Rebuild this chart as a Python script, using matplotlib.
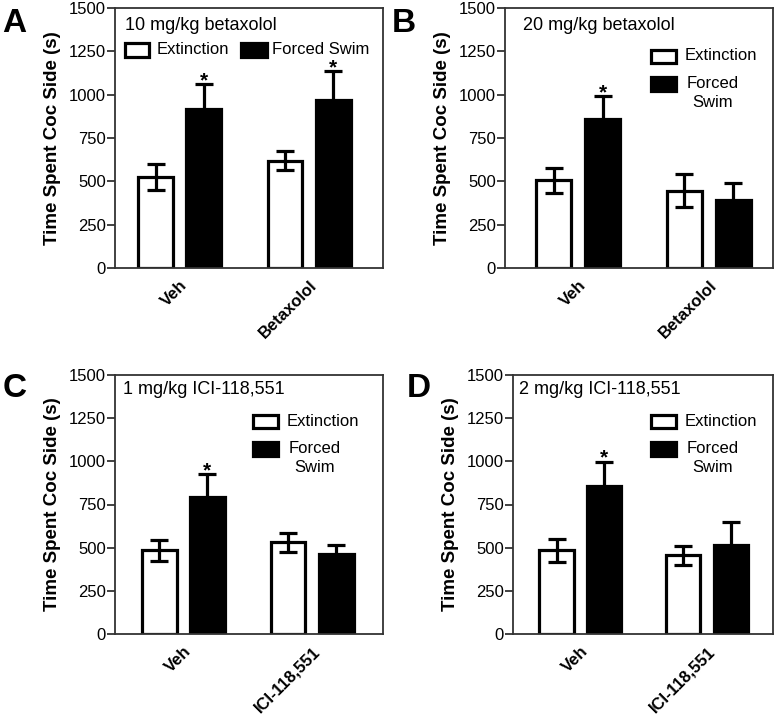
import matplotlib
matplotlib.use("Agg")
import matplotlib.pyplot as plt
from matplotlib.patches import Rectangle
import numpy as np

plt.rcParams['font.family'] = ['Liberation Sans', 'DejaVu Sans']

# ---- data ----
panel_letters = ["A", "B", "C", "D"]
panel_titles = ["10 mg/kg betaxolol", "20 mg/kg betaxolol",
                "1 mg/kg ICI-118,551", "2 mg/kg ICI-118,551"]
group_labels = [["Veh", "Betaxolol"], ["Veh", "Betaxolol"],
                ["Veh", "ICI-118,551"], ["Veh", "ICI-118,551"]]
series_names = ["Extinction", "Forced Swim"]

ext_means = [[525, 620], [505, 447], [485, 530], [485, 455]]
ext_sem = [[77, 57], [70, 95], [60, 55], [67, 53]]
fs_means = [[915, 970], [860, 393], [795, 465], [860, 515]]
fs_sem = [[145, 165], [133, 98], [130, 48], [137, 135]]
significant = [[True, True], [True, False], [True, False], [True, False]]

yticks = [0, 250, 500, 750, 1000, 1250, 1500]

# ---- layout (pixels) ----
W, H = 775, 719
fig = plt.figure(figsize=(W / 100, H / 100), dpi=100)

boxes = [  # left, top, right, bottom
    (115, 8, 383, 268),
    (505, 8, 773, 268),
    (115, 375, 383, 634),
    (513, 375, 773, 634),
]
xlims = [(-0.5, 1.57), (-0.56, 1.49), (-0.53, 1.55), (-0.53, 1.52)]
title_off = [(10, 17), (18, 17), (8, 14), (6, 14)]
legend_left = [None, 146, 138, 138]
letter_pos = [(2, 8), (392, 8), (3, 373), (407, 373)]

offset = 0.187
width = 0.27
spine_c = "#333333"
FS = 12

for i in range(4):
    l, t, r, b = boxes[i]
    aw, ah = r - l, b - t
    ax = fig.add_axes([l / W, 1 - b / H, aw / W, ah / H])

    def fx(px):
        return px / aw

    def fy(py):
        return 1 - py / ah

    x = np.arange(2)
    ax.bar(x - offset, ext_means[i], width, color="white", edgecolor="black",
           linewidth=2.3, zorder=2)
    ax.bar(x + offset, fs_means[i], width, color="black", edgecolor="black",
           linewidth=2.3, zorder=2)
    ax.errorbar(x - offset, ext_means[i], yerr=ext_sem[i], fmt="none",
                ecolor="black", elinewidth=2.3, capsize=6.5, capthick=2.3, zorder=3)
    ax.errorbar(x + offset, fs_means[i], yerr=fs_sem[i], fmt="none",
                ecolor="black", elinewidth=2.3, capsize=6.5, capthick=2.3, zorder=3)
    for j in range(2):
        if significant[i][j]:
            ax.annotate("*", (x[j] + offset, fs_means[i][j] + fs_sem[i][j]),
                        xytext=(0, 2.5), textcoords="offset points",
                        ha="center", va="center", fontsize=15, fontweight="bold")

    ax.set_ylim(0, 1500)
    ax.set_xlim(*xlims[i])
    ax.set_yticks(yticks)
    ax.set_yticklabels([str(v) for v in yticks], fontsize=FS)
    ax.set_xticks(x)
    ax.set_xticklabels(group_labels[i], rotation=45, ha="right",
                       rotation_mode="anchor", fontsize=12, fontweight="bold")
    ax.tick_params(axis="x", length=0, pad=7)
    ax.tick_params(axis="y", length=5.5, width=1.3, color=spine_c, pad=1)
    for s in ax.spines.values():
        s.set_linewidth(1.3)
        s.set_color(spine_c)
    ax.set_ylabel("Time Spent Coc Side (s)", fontsize=13.5, fontweight="bold",
                  labelpad=6)

    tx, ty = title_off[i]
    ax.text(fx(tx), fy(ty), panel_titles[i], transform=ax.transAxes,
            ha="left", va="center", fontsize=13)

    # legend
    sq_kw = dict(transform=ax.transAxes, linewidth=2.3, edgecolor="black",
                 clip_on=False, zorder=5)
    if i == 0:
        ax.add_patch(Rectangle((fx(10), fy(49)), fx(24), 14 / ah,
                               facecolor="white", **sq_kw))
        ax.text(fx(42), fy(41), series_names[0], transform=ax.transAxes,
                ha="left", va="center", fontsize=FS)
        ax.add_patch(Rectangle((fx(126), fy(49)), fx(26), 14 / ah,
                               facecolor="black", **sq_kw))
        ax.text(fx(157), fy(41), series_names[1], transform=ax.transAxes,
                ha="left", va="center", fontsize=FS)
    else:
        ll = legend_left[i]
        dt = 0 if i == 1 else -2
        ax.add_patch(Rectangle((fx(ll), fy(55 + dt)), fx(25), 13 / ah,
                               facecolor="white", **sq_kw))
        ax.text(fx(ll + 34), fy(48 + dt), series_names[0], transform=ax.transAxes,
                ha="left", va="center", fontsize=FS)
        ax.add_patch(Rectangle((fx(ll), fy(83 + dt)), fx(25), 14 / ah,
                               facecolor="black", **sq_kw))
        ax.text(fx(ll + 62), fy(85 + dt), "Forced\nSwim", transform=ax.transAxes,
                ha="center", va="center", fontsize=FS, multialignment="center",
                linespacing=1.35)

    lx, ly = letter_pos[i]
    fig.text(lx / W, 1 - ly / H, panel_letters[i],
             fontsize=24, fontweight="bold", ha="left", va="top")

fig.savefig("out.png", dpi=100)
